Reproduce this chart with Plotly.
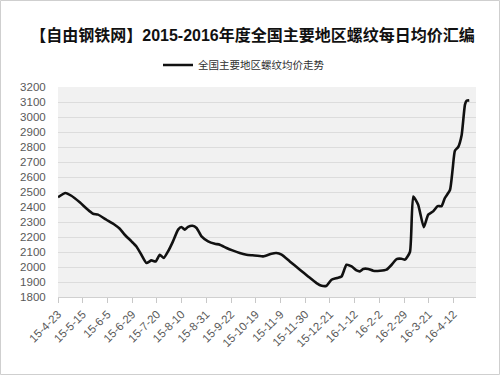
import plotly.graph_objects as go

# trading-day index (0 = 15-4-23) and daily average rebar price
day_index = [0, 4.5, 8.1, 13.2, 17.6, 21.3, 24.3, 29.4, 34.4, 37.5, 40.5, 44.6, 47.6, 50.6,
             53.7, 56.7, 59.3, 61.8, 64.2, 66.8, 69.8, 72.9, 74.9, 76.9, 78.9, 81.6, 84.1,
             87.1, 91.1, 95.2, 98.2, 102.3, 106.3, 110.3, 114.4, 118, 124.5, 129.6, 132.6,
             135.7, 140.7, 146.8, 151.8, 156.9, 160, 163, 166, 169.4, 172.1, 175.1, 178.2,
             181.2, 183.2, 185.2, 188.3, 191.3, 195.4, 199.4, 202.5, 205.5, 208.5, 210.6,
             213.6, 215.6, 218.6, 222, 224.7, 227.7, 230.4, 232.8, 234.8, 237.9, 239.5,
             240.9, 242.9, 245, 247, 248, 249.6]
price = [2465, 2493, 2475, 2431, 2387, 2355, 2349, 2315, 2282, 2255, 2215, 2171, 2137, 2082,
         2027, 2044, 2037, 2082, 2060, 2104, 2171, 2249, 2267, 2249, 2267, 2275, 2260,
         2204, 2171, 2155, 2149, 2127, 2109, 2093, 2082, 2078, 2071, 2089, 2093,
         2082, 2037, 1982, 1937, 1893, 1875, 1875, 1915, 1927, 1937, 2015, 2004,
         1977, 1971, 1987, 1987, 1975, 1975, 1982, 2015, 2053, 2055, 2049,
         2100, 2470, 2415, 2265, 2349, 2371, 2406, 2406, 2460, 2513, 2649,
         2775, 2800, 2880, 3082, 3108, 3111]

tick_labels = ["15-4-23", "15-5-15", "15-6-5", "15-6-29", "15-7-20", "15-8-10", "15-8-31",
               "15-9-22", "15-10-19", "15-11-9", "15-11-30", "15-12-21", "16-1-12",
               "16-2-2", "16-2-29", "16-3-21", "16-4-12"]
tick_positions = [0, 15, 30, 45, 60, 75, 90, 105, 120, 135, 150, 165, 180, 195, 210, 225, 240]

series_name = "全国主要地区螺纹均价走势"
title_text = "【自由钢铁网】2015-2016年度全国主要地区螺纹每日均价汇编"

FONT = "Liberation Sans, Arial, Noto Sans CJK SC, sans-serif"

fig = go.Figure()
fig.add_trace(go.Scatter(
    x=day_index, y=price, mode="lines", name=series_name,
    line=dict(color="#111111", width=2.6, shape="spline", smoothing=0.5),
    showlegend=True,
))

fig.update_layout(
    width=500, height=375,
    margin=dict(l=58, r=24, t=87, b=78),
    paper_bgcolor="white",
    plot_bgcolor="#f1f1f1",
    font=dict(family=FONT, color="#595959", size=11),
    title=dict(text=title_text, x=0.505, xref="container", xanchor="center",
               y=1 - 35 / 375, yref="container", yanchor="middle",
               font=dict(family="Liberation Sans, Noto Sans CJK SC, sans-serif",
                         size=16, color="#111111", weight="bold")),
    legend=dict(orientation="h", x=(158 - 58) / 418, xanchor="left",
                y=(297 - 65) / 210, yanchor="middle", itemwidth=30,
                bgcolor="rgba(0,0,0,0)",
                font=dict(family="Noto Sans CJK SC, sans-serif", size=10.5, color="#303030")),
    xaxis=dict(range=[0, 253.7], tickmode="array", tickvals=tick_positions,
               ticktext=tick_labels, tickangle=-45, ticks="outside", ticklen=5,
               tickcolor="#c8c8c8", showgrid=False, showline=True, linecolor="#d0d0d0",
               zeroline=False, tickfont=dict(size=11.5, color="#595959")),
    yaxis=dict(range=[1800, 3200], dtick=100, showgrid=True, gridcolor="#dcdcdc",
               gridwidth=1.2, zeroline=False, showline=False,
               ticks="outside", ticklen=9, tickcolor="rgba(0,0,0,0)",
               tickfont=dict(size=11.5, color="#595959")),
    shapes=[dict(type="rect", xref="paper", yref="paper",
                 x0=(0.5 - 58) / 418, x1=(499.5 - 58) / 418,
                 y0=(297 - 374.5) / 210, y1=(297 - 0.5) / 210,
                 line=dict(color="#cfcfcf", width=1), fillcolor="rgba(0,0,0,0)",
                 layer="below")],
)

fig.write_html("out.html")
